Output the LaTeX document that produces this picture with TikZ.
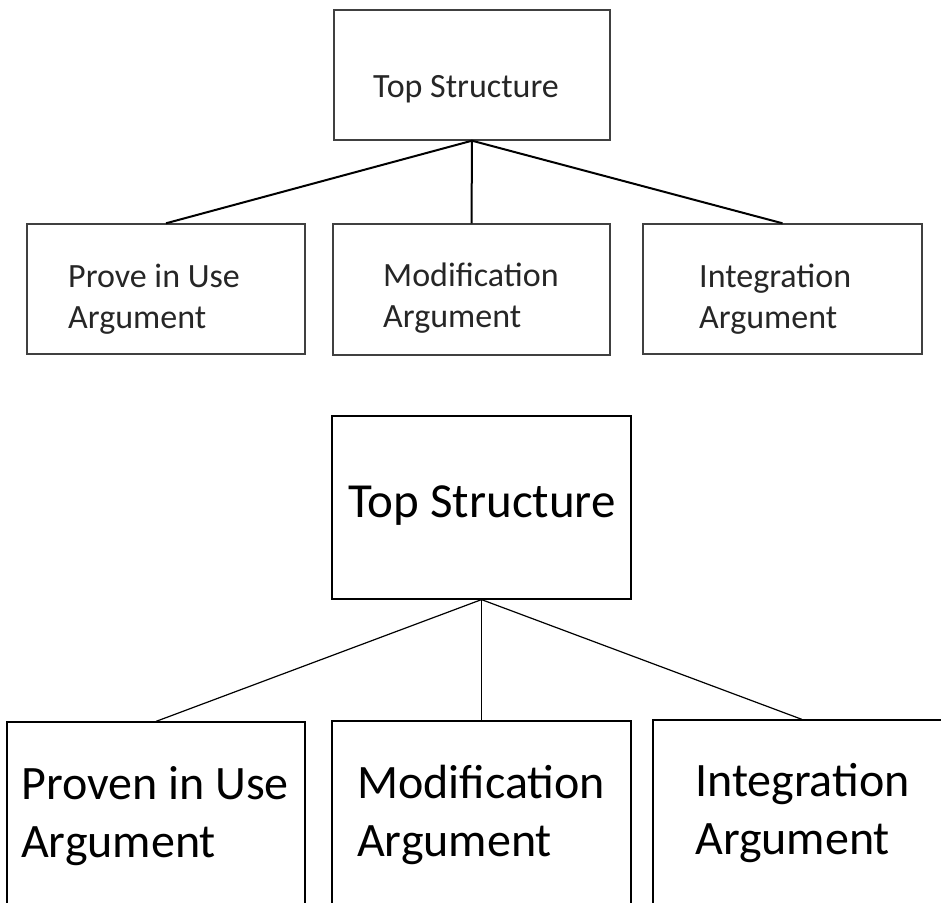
\documentclass[tikz,border=0pt]{standalone}
\usepackage{fontspec}
\setmainfont{Carlito}
\begin{document}
\begin{tikzpicture}[x=1pt,y=-1pt,
  smallbox/.style={draw=black!75, line width=1.4pt, inner sep=0pt},
  bigbox/.style={draw=black, line width=1.2pt, inner sep=0pt},
  smallline/.style={draw=black, line width=2pt},
  bigline/.style={draw=black, line width=1.2pt},
  smalltext/.style={anchor=base west, inner sep=0pt, text=black!85, font=\fontsize{34}{41}\selectfont},
  bigtext/.style={anchor=base west, inner sep=0pt, text=black, font=\fontsize{48}{58}\selectfont}]
\useasboundingbox (0,0) rectangle (941,902);
\clip (0,0) rectangle (941,902);
% ---------- upper diagram ----------
\node[smallbox, minimum width=276pt, minimum height=130pt] (tt) at (472,75) {};
\node[smallbox, minimum width=278pt, minimum height=130pt] (t1) at (166,289) {};
\node[smallbox, minimum width=277pt, minimum height=131pt] (t2) at (471.5,289.5) {};
\node[smallbox, minimum width=279pt, minimum height=130pt] (t3) at (782.5,289) {};
\node[smalltext] (ttl) at (373,97.5) {Top Structure};
\node[smalltext] (t1l) at (68,287) {\vtop{\hbox{Prove in Use}\hbox{Argument}}};
\node[smalltext] (t2l) at (383,286) {\vtop{\hbox{Modification}\hbox{Argument}}};
\node[smalltext] (t3l) at (699,287) {\vtop{\hbox{Integration}\hbox{Argument}}};
\draw[smallline] (tt.south) -- (t1.north);
\draw[smallline] (tt.south) -- (t2.north);
\draw[smallline] (tt.south) -- (t3.north);
% ---------- lower diagram ----------
\node[bigbox, minimum width=299pt, minimum height=183pt] (bt) at (481.5,507.5) {};
\node[bigbox, minimum width=298pt, minimum height=260pt] (b1) at (156,852) {};
\node[bigbox, minimum width=299pt, minimum height=260pt] (b2) at (481.5,851) {};
\node[bigbox, minimum width=340pt, minimum height=260pt] (b3) at (823,850) {};
\node[bigtext, font=\fontsize{49}{58}\selectfont] (btl) at (348,517) {Top Structure};
\node[bigtext] (b1l) at (21,799) {\vtop{\hbox{Proven in Use}\hbox{Argument}}};
\node[bigtext] (b2l) at (357,798) {\vtop{\hbox{Modification}\hbox{Argument}}};
\node[bigtext] (b3l) at (695,796) {\vtop{\hbox{Integration}\hbox{Argument}}};
\draw[bigline] (bt.south) -- (b1.north);
\draw[bigline] (bt.south) -- (b2.north);
\draw[bigline] (bt.south) -- ([xshift=-21pt]b3.north);
\end{tikzpicture}
\end{document}
